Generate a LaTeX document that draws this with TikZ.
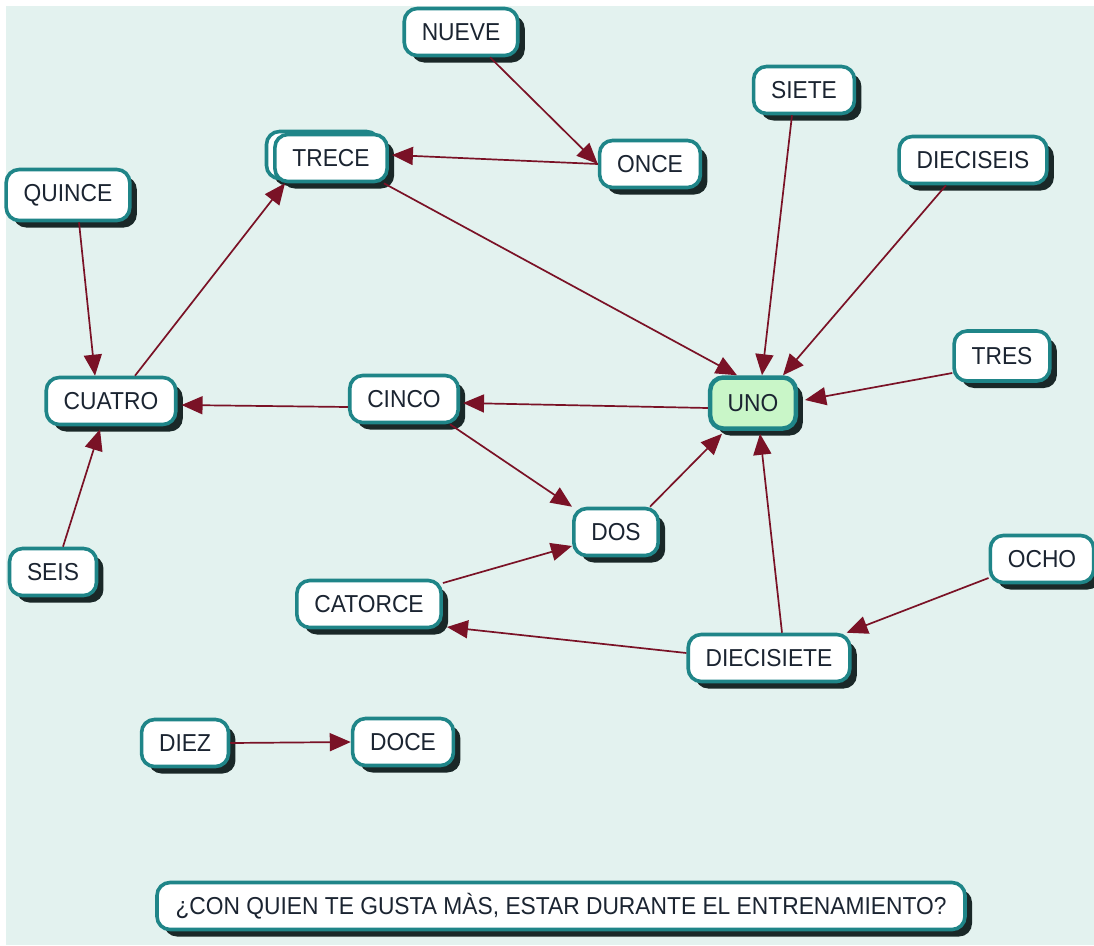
\documentclass[tikz,border=0pt]{standalone}
\usepackage{fontspec}
\setmainfont[FakeStretch=0.93]{Liberation Sans}
\usetikzlibrary{shadows,arrows.meta}
\definecolor{bgc}{HTML}{E3F2EF}
\definecolor{tealc}{HTML}{1F8588}
\definecolor{shadc}{HTML}{1A2828}
\definecolor{txtc}{HTML}{1B2431}
\definecolor{unoc}{HTML}{C9F6C8}
\definecolor{arrc}{HTML}{7A1226}
\tikzset{
  box/.style={draw=tealc, line width=3.6pt, fill=white, rounded corners=13pt,
    inner xsep=17.5pt, inner ysep=4pt, minimum height=47pt,
    text=txtc, font=\fontsize{24.5}{28}\selectfont,
    drop shadow={shadow xshift=7pt, shadow yshift=-7pt, fill=shadc, opacity=1}},
  unobox/.style={box, fill=unoc, line width=4.5pt, minimum height=51pt},
  conn/.style={draw=arrc, line width=1.7pt, -{Triangle[length=21pt,width=18pt]}}
}
\begin{document}
\begin{tikzpicture}[x=1pt,y=-1pt]
\useasboundingbox (0,0) rectangle (1094,945);
\fill[white] (0,0) rectangle (1094,945);
\fill[bgc] (6,6) rectangle (1094,945);

% nodes
\node[box, minimum width=113pt] (TRECEb) at (323,155) {};
\node[box] (TRECE) at (331,158) {TRECE};
\node[box] (NUEVE) at (461,32) {NUEVE};
\node[box] (ONCE) at (650,164) {ONCE};
\node[box] (SIETE) at (804,90) {SIETE};
\node[box] (DIECISEIS) at (973,160) {DIECISEIS};
\node[box, minimum height=51pt] (QUINCE) at (68,195) {QUINCE};
\node[box] (CUATRO) at (111,401) {CUATRO};
\node[box] (CINCO) at (404,399) {CINCO};
\node[unobox] (UNO) at (753,403) {UNO};
\node[box, minimum height=50pt] (TRES) at (1002,356) {TRES};
\node[box] (DOS) at (616,532) {DOS};
\node[box] (SEIS) at (53,572) {SEIS};
\node[box] (OCHO) at (1042,559) {OCHO};
\node[box] (CATORCE) at (369,604) {CATORCE};
\node[box] (DIECISIETE) at (769,658) {DIECISIETE};
\node[box] (DIEZ) at (185,743) {DIEZ};
\node[box] (DOCE) at (403,742) {DOCE};
\node[box, minimum width=808pt] (PREG) at (561,906) {¿CON QUIEN TE GUSTA MÀS, ESTAR DURANTE EL ENTRENAMIENTO?};

% connectors
\draw[conn] ([xshift=29pt]NUEVE.south) -- (ONCE.west);
\draw[conn] (ONCE.west) -- ([xshift=3pt,yshift=3pt]TRECE.east);
\draw[conn] ([xshift=-5pt]TRECE.south east) -- ([xshift=-16pt]UNO.north);
\draw[conn] ([xshift=-12pt]SIETE.south) -- ([xshift=9pt]UNO.north);
\draw[conn] ([xshift=-27pt]DIECISEIS.south) -- ([xshift=30pt]UNO.north);
\draw[conn] ([yshift=-17pt]TRES.west) -- ([xshift=7pt,yshift=3pt]UNO.east);
\draw[conn] ([xshift=11pt]QUINCE.south) -- ([xshift=-16pt]CUATRO.north);
\draw[conn] ([xshift=24pt]CUATRO.north) -- ([xshift=-46pt]TRECE.south);
\draw[conn] ([yshift=-8pt]CINCO.west) -- ([xshift=4pt,yshift=-4pt]CUATRO.east);
\draw[conn] ([yshift=-5pt]UNO.west) -- ([xshift=3pt,yshift=-4pt]CINCO.east);
\draw[conn] ([xshift=46pt]CINCO.south) -- (DOS.north west);
\draw[conn] ([xshift=34pt]DOS.north) -- ([xshift=-31pt,yshift=-3pt]UNO.south);
\draw[conn] ([xshift=10pt]SEIS.north) -- ([xshift=-11pt,yshift=-3pt]CUATRO.south);
\draw[conn] ([yshift=21pt]CATORCE.east) -- ([yshift=-14pt]DOS.west);
\draw[conn] ([yshift=5pt]DIECISIETE.west) -- ([xshift=4pt,yshift=-23pt]CATORCE.east);
\draw[conn] ([xshift=13pt]DIECISIETE.north) -- ([xshift=7pt,yshift=-3pt]UNO.south);
\draw[conn] ([yshift=-19pt]OCHO.west) -- ([xshift=-5pt]DIECISIETE.north east);
\draw[conn] (DIEZ.east) -- (DOCE.west);
\end{tikzpicture}
\end{document}
